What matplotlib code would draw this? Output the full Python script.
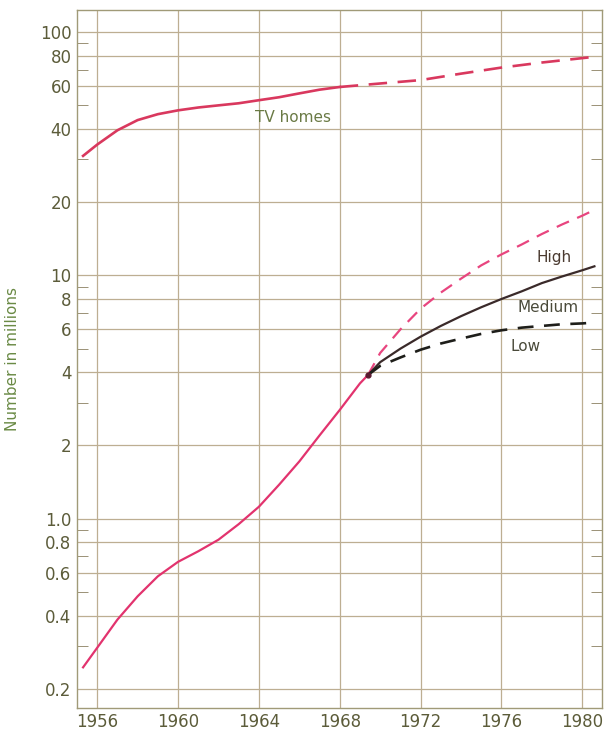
import matplotlib
matplotlib.use("Agg")
import matplotlib.pyplot as plt
from matplotlib.ticker import FixedLocator, NullFormatter

# TV homes (millions), actual then projected
tv_years = [1955.3, 1956, 1957, 1958, 1959, 1960, 1961, 1962, 1963, 1964, 1965, 1966, 1967, 1968]
tv_vals = [31, 34.5, 39.5, 43.5, 46, 47.7, 49, 50, 51, 52.5, 54, 56, 58, 59.5]
tv_proj_years = [1968, 1970, 1972, 1974, 1976, 1978, 1980.5]
tv_proj_vals = [59.5, 61.5, 63.5, 67.5, 71.5, 75, 79]

# subscriber curve (millions)
sub_years = [1955.3, 1956, 1957, 1958, 1959, 1960, 1961, 1962, 1963, 1964, 1965, 1966, 1967, 1968, 1969, 1969.4]
sub_vals = [0.245, 0.295, 0.385, 0.48, 0.58, 0.665, 0.735, 0.82, 0.95, 1.12, 1.38, 1.72, 2.2, 2.8, 3.6, 3.9]

proj_years = [1969.4, 1970, 1971, 1972, 1973, 1974, 1975, 1976, 1977, 1978, 1979, 1980, 1980.6]
high_vals = [3.9, 4.8, 6.0, 7.3, 8.5, 9.7, 11, 12.2, 13.4, 14.8, 16.2, 17.6, 18.6]
med_vals = [3.9, 4.4, 5.0, 5.6, 6.2, 6.8, 7.4, 8.0, 8.6, 9.3, 9.9, 10.5, 10.9]
low_vals = [3.9, 4.25, 4.6, 4.95, 5.25, 5.5, 5.75, 5.95, 6.1, 6.2, 6.3, 6.35, 6.4]

x_ticks = [1956, 1960, 1964, 1968, 1972, 1976, 1980]
y_ticks = [0.2, 0.4, 0.6, 0.8, 1.0, 2, 4, 6, 8, 10, 20, 40, 60, 80, 100]
y_labels = ["0.2", "0.4", "0.6", "0.8", "1.0", "2", "4", "6", "8", "10", "20", "40", "60", "80", "100"]
y_minor = [0.3, 0.5, 0.7, 0.9, 3, 5, 7, 9, 30, 50, 70, 90]

grid_c = "#bdae92"
text_c = "#5c5c3a"
pink = "#e2336e"

fig = plt.figure(figsize=(6.04, 7.32), dpi=100)
ax = fig.add_axes([0.1275, 0.033, 0.87, 0.953])

ax.plot(tv_years, tv_vals, color="#d9385e", lw=1.9)
ax.plot(tv_proj_years, tv_proj_vals, color="#d9385e", lw=1.9, dashes=(7, 4))
ax.plot(sub_years, sub_vals, color=pink, lw=1.6)
ax.plot(proj_years, high_vals, color="#e8457f", lw=1.6, dashes=(6, 4))
ax.plot(proj_years, med_vals, color="#3a2a2a", lw=1.6)
ax.plot(proj_years, low_vals, color="#1e1e1a", lw=1.9, dashes=(6, 4))
ax.plot([1969.4], [3.9], "o", color="#5a1a30", ms=3.5)

ax.text(1965.7, 44.7, "TV homes", color="#6a7a45", fontsize=11, ha="center", va="center")
ax.text(1978.6, 11.8, "High", color="#4a3a30", fontsize=11, ha="center", va="center")
ax.text(1978.3, 7.35, "Medium", color="#4a4a3a", fontsize=11, ha="center", va="center")
ax.text(1977.2, 5.1, "Low", color="#4a4a3a", fontsize=11, ha="center", va="center")

ax.set_yscale("log")
ax.set_xlim(1955, 1981)
ax.set_ylim(0.167, 123)
ax.yaxis.set_major_locator(FixedLocator(y_ticks))
ax.set_yticklabels(y_labels)
ax.yaxis.set_minor_locator(FixedLocator(y_minor))
ax.yaxis.set_minor_formatter(NullFormatter())
ax.set_xticks(x_ticks)
ax.set_xticklabels([str(y) for y in x_ticks])

ax.grid(True, which="major", color=grid_c, lw=0.9)
ax.tick_params(axis="both", which="major", length=0, labelsize=12, labelcolor=text_c, pad=4)
ax.tick_params(axis="y", which="minor", direction="in", length=8, color="#8a8060", left=True, right=True)
for s in ax.spines.values():
    s.set_color("#a09a78")
    s.set_linewidth(1.0)

ax.set_ylabel("Number in millions", color="#6a8a45", fontsize=11, labelpad=14)

fig.savefig("out.png", dpi=100, facecolor="white")
